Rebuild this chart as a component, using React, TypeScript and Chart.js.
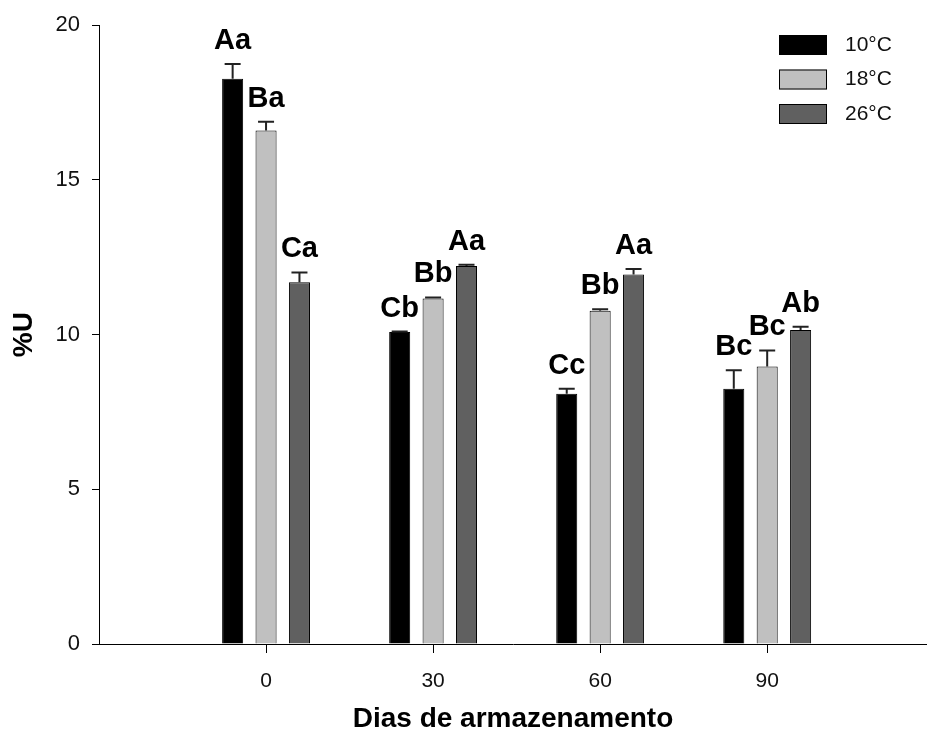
import React, { useEffect, useRef } from 'react';
import { Chart, registerables } from 'chart.js';

Chart.register(...registerables);

// ---- data ----
const days = [0, 30, 60, 90];
const seriesLabels = ['10°C', '18°C', '26°C'];
const values10 = [18.27, 10.08, 8.09, 8.25];
const values18 = [16.6, 11.17, 10.77, 8.97];
const values26 = [11.69, 12.22, 11.94, 10.15];
const errors10 = [0.48, 0.02, 0.16, 0.6];
const errors18 = [0.28, 0.03, 0.05, 0.52];
const errors26 = [0.32, 0.04, 0.18, 0.1];
const letters10 = ['Aa', 'Cb', 'Cc', 'Bc'];
const letters18 = ['Ba', 'Bb', 'Bb', 'Bc'];
const letters26 = ['Ca', 'Aa', 'Aa', 'Ab'];
const xTitle = 'Dias de armazenamento';
const yTitle = '%U';

const seriesValues = [values10, values18, values26];
const seriesErrors = [errors10, errors18, errors26];
const seriesLetters = [letters10, letters18, letters26];
const seriesColors = ['#000000', '#c0c0c0', '#606060'];

const FONT = "'Liberation Sans', Arial, Helvetica, sans-serif";

const errorLetterPlugin = {
  id: 'errorLetter',
  afterDatasetsDraw(chart: any) {
    const ctx = chart.ctx;
    const yScale = chart.scales.y;
    ctx.save();
    chart.data.datasets.forEach((ds: any, di: number) => {
      const meta = chart.getDatasetMeta(di);
      meta.data.forEach((bar: any, i: number) => {
        const v = seriesValues[di][i];
        const e = seriesErrors[di][i];
        const yTop = yScale.getPixelForValue(v + e);
        const x = bar.x;
        ctx.strokeStyle = '#222';
        ctx.lineWidth = 2;
        ctx.beginPath();
        ctx.moveTo(x, bar.y);
        ctx.lineTo(x, yTop);
        ctx.moveTo(x - 8, yTop);
        ctx.lineTo(x + 8, yTop);
        ctx.stroke();
        ctx.fillStyle = '#000';
        ctx.font = `bold 29px ${FONT}`;
        ctx.textAlign = 'center';
        ctx.textBaseline = 'alphabetic';
        ctx.fillText(seriesLetters[di][i], x, Math.min(yTop, bar.y) - 15);
      });
    });
    ctx.restore();
  },
};

const legendPlugin = {
  id: 'cornerLegend',
  afterDraw(chart: any) {
    const ctx = chart.ctx;
    ctx.save();
    chart.data.datasets.forEach((ds: any, i: number) => {
      const top = 35 + i * 34.5;
      ctx.fillStyle = ds.backgroundColor;
      ctx.fillRect(779, top, 48, 20);
      ctx.strokeStyle = '#000';
      ctx.lineWidth = 1;
      ctx.strokeRect(779.5, top + 0.5, 47, 19);
      ctx.fillStyle = '#111';
      ctx.font = `21px ${FONT}`;
      ctx.textAlign = 'left';
      ctx.textBaseline = 'middle';
      ctx.fillText(ds.label, 845, top + 10);
    });
    ctx.restore();
  },
};

export default function App() {
  const canvasRef = useRef<HTMLCanvasElement | null>(null);

  useEffect(() => {
    if (!canvasRef.current) return;
    const datasets = seriesLabels.map((label, si) => ({
      label,
      data: days.map((d, i) => ({ x: d, y: seriesValues[si][i] })),
      backgroundColor: seriesColors[si],
      borderColor: '#000',
      borderWidth: 1,
      categoryPercentage: 0.6,
      barPercentage: 0.63,
    }));
    const chart = new Chart(canvasRef.current, {
      type: 'bar',
      data: { datasets },
      plugins: [errorLetterPlugin, legendPlugin],
      options: {
        animation: false,
        responsive: false,
        maintainAspectRatio: false,
        layout: { padding: { top: 24, left: 0, right: 0, bottom: 0 } },
        plugins: {
          legend: { display: false },
          tooltip: { enabled: false },
        },
        scales: {
          x: {
            type: 'linear',
            min: -30,
            max: 118.7,
            offset: false,
            afterBuildTicks: (s: any) => {
              s.ticks = days.map((v) => ({ value: v }));
            },
            afterFit: (s: any) => {
              s.height = 92;
            },
            ticks: {
              font: { family: FONT, size: 21 },
              color: '#111',
              padding: 16,
              callback: (v: any) => String(v),
            },
            grid: {
              offset: false,
              drawOnChartArea: false,
              drawTicks: true,
              tickLength: 9,
              color: '#000',
            },
            border: { display: true, color: '#000', width: 1 },
            title: {
              display: true,
              text: xTitle,
              color: '#000',
              font: { family: FONT, size: 28, weight: 'bold' },
              padding: { top: 0, bottom: 0 },
            },
          },
          y: {
            min: 0,
            max: 20,
            afterFit: (s: any) => {
              s.width = 99;
            },
            ticks: {
              stepSize: 5,
              font: { family: FONT, size: 22 },
              color: '#111',
              padding: 12,
            },
            grid: {
              drawOnChartArea: false,
              drawTicks: true,
              tickLength: 7,
              color: '#000',
            },
            border: { display: true, color: '#000', width: 1 },
            title: {
              display: true,
              text: yTitle,
              color: '#000',
              font: { family: FONT, size: 28, weight: 'bold' },
              padding: { top: 7, bottom: 0 },
            },
          },
        },
      } as any,
    });
    return () => chart.destroy();
  }, []);

  return (
    <div style={{ position: 'absolute', left: 0, top: 0, width: 927, height: 736, background: '#fff' }}>
      <canvas ref={canvasRef} width={927} height={736} style={{ display: 'block' }} />
    </div>
  );
}
